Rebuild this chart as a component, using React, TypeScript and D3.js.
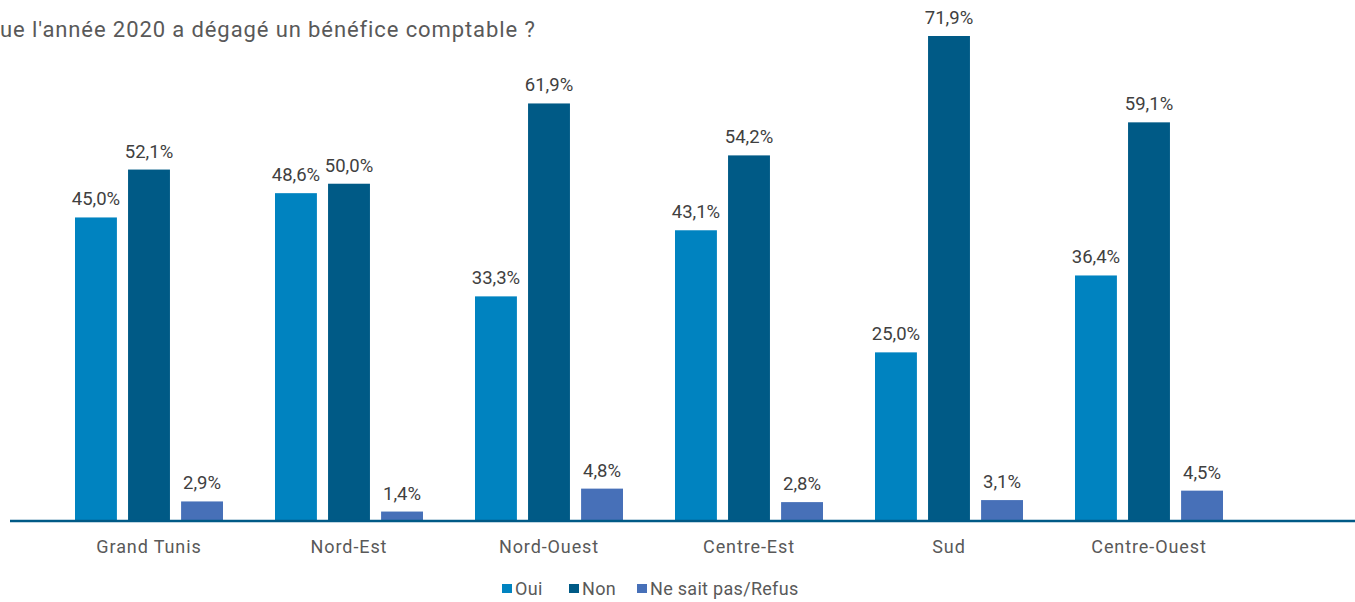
import React from "react";
import * as d3 from "d3";

const categories = ["Grand Tunis", "Nord-Est", "Nord-Ouest", "Centre-Est", "Sud", "Centre-Ouest"];
const seriesNames = ["Oui", "Non", "Ne sait pas/Refus"];
const oui = [45.0, 48.6, 33.3, 43.1, 25.0, 36.4];
const non = [52.1, 50.0, 61.9, 54.2, 71.9, 59.1];
const nsp = [2.9, 1.4, 4.8, 2.8, 3.1, 4.5];
const colors = ["#0083C0", "#005A86", "#4770B8"];
const title = "ue l'année 2020 a dégagé un bénéfice comptable ?";

const W = 1355;
const H = 602;
const font = "Roboto, 'Open Sans', sans-serif";

export default function App() {
  const values = [oui, non, nsp];
  const x0 = d3.scaleBand<string>().domain(categories).range([49, 1249]).padding(0);
  const x1 = d3
    .scaleBand<string>()
    .domain(seriesNames)
    .range([26, 174])
    .paddingInner(0.21)
    .paddingOuter(0);
  const y = d3.scaleLinear().domain([0, 71.9]).range([521, 36]);
  const fmt = (v: number) => v.toFixed(1).replace(".", ",") + "%";

  const legendItems = [
    { name: "Oui", x: 502 },
    { name: "Non", x: 569 },
    { name: "Ne sait pas/Refus", x: 637 },
  ];

  return (
    <svg width={W} height={H} style={{ position: "absolute", left: 0, top: 0 }} fontFamily={font}>
      <rect x={0} y={0} width={W} height={H} fill="#ffffff" />
      <text x={0} y={37} fontSize={22} fill="#595959" letterSpacing={0.9}>
        {title}
      </text>
      {categories.map((c, ci) => (
        <g key={c} transform={`translate(${x0(c)},0)`}>
          {seriesNames.map((s, si) => {
            const v = values[si][ci];
            const bx = x1(s)!;
            return (
              <g key={s}>
                <rect x={bx} y={y(v)} width={x1.bandwidth()} height={y(0) - y(v)} fill={colors[si]} />
                <text
                  x={bx + x1.bandwidth() / 2}
                  y={y(v) - 12}
                  textAnchor="middle"
                  fontSize={18.5}
                  fill="#404040"
                >
                  {fmt(v)}
                </text>
              </g>
            );
          })}
          <text x={x0.bandwidth() / 2} y={553} textAnchor="middle" fontSize={18} fill="#595959" letterSpacing={0.9}>
            {c}
          </text>
        </g>
      ))}
      <line x1={10} x2={1355} y1={521} y2={521} stroke="#005A86" strokeWidth={2.5} />
      {legendItems.map((l, i) => (
        <g key={l.name}>
          <rect x={l.x} y={584} width={10} height={9} fill={colors[i]} />
          <text x={l.x + 13} y={595} fontSize={18} fill="#595959" letterSpacing={0.3}>
            {l.name}
          </text>
        </g>
      ))}
    </svg>
  );
}
